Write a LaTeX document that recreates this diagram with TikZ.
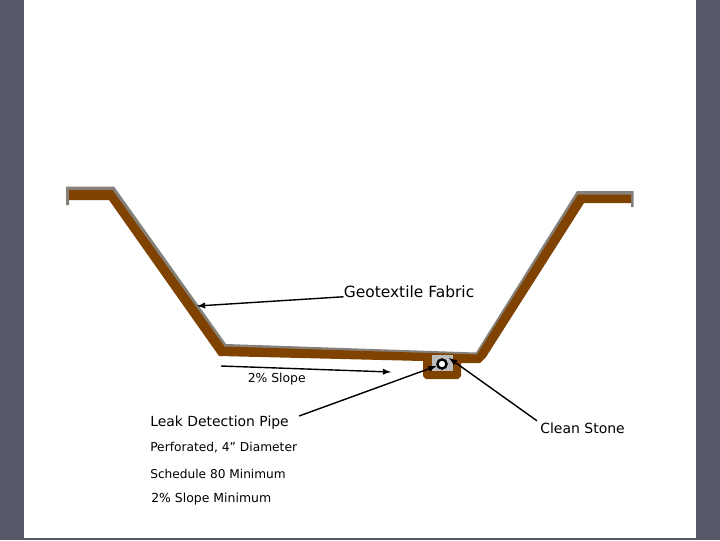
\documentclass[tikz,border=0pt]{standalone}
\usepackage{fontspec}
\setmainfont{DejaVu Sans}
\usetikzlibrary{calc}
\definecolor{slidegray}{HTML}{565868}
\definecolor{soilbrown}{HTML}{7F4200}
\definecolor{linergray}{HTML}{85807A}
\definecolor{stonegray}{HTML}{BDBDBD}
\tikzset{
    lbl/.style={right, inner sep=0pt, font=\fontsize{#1}{#1}\selectfont},
    leader/.style={draw=black, line width=1pt},
    leaderarrow/.style={leader, -latex}
}

\begin{document}
\begin{tikzpicture}[x=0.025cm, y=-0.025cm]
        \fill[slidegray] (0,0) rectangle (720,540); % Slide
        \fill[white] (24,0) rectangle (696,537.5); % Page
        \useasboundingbox (0,0) rectangle (720,540);
        % Liner under the soil
        \fill[linergray] (66,205) -- (66,186.5) -- (114,186.5) -- (226,344) -- (476,352.5) -- (577,191) -- (633.5,191) -- (633.5,207) -- (631,207) -- (631,196) -- (583,196) -- (480,358) -- (222,350) -- (110,192) -- (69,192) -- (69,205) -- cycle;
        % Soil
        \fill[soilbrown] (69,190) -- (112.5,190) -- (224.5,346.5) -- (477,354.5) -- (578,194.5) -- (631,194.5) -- (631,203) -- (584,203) -- (486,357) -- (480,363) -- (461,363) -- (461,376) -- (458,379) -- (426,379) -- (423,376) -- (423,361) -- (219,356) -- (109,200) -- (69,200) -- cycle;
        \fill[stonegray] (432,355) rectangle (453,371); % Stone
        \node[draw=black, line width=1.7pt, fill=white, circle, minimum size=6.5pt, inner sep=0pt] (pipe) at (442,364) {};
        % Labels
        \node[lbl=11] (geotextile) at (343.5,291.5) {Geotextile Fabric};
        \node[lbl=8.8] (slope) at (247.5,379.5) {2\% Slope};
        \node[lbl=9.9] (leak) at (150,423) {Leak Detection Pipe};
        \node[lbl=8.7] (perforated) at (150,448) {Perforated, 4” Diameter};
        \node[lbl=8.65] (schedule) at (150,473.5) {Schedule 80 Minimum};
        \node[lbl=8.85] (minimum) at (151,499.5) {2\% Slope Minimum};
        \node[lbl=9.95] (stone) at (540,428.5) {Clean Stone};
        % Leaders
        \coordinate (linerpt) at (197,306);
        \coordinate (slopestart) at (221,366);
        \coordinate (slopeend) at (391,372);
        \coordinate (stonept) at (449,358);
        \draw[leaderarrow] (geotextile.south west) ++(0,-1) -- (linerpt);
        \draw[leaderarrow] (slopestart) -- (slopeend);
        \draw[leaderarrow] (leak.east) ++(10,-7) -- (pipe);
        \draw[leaderarrow] (stone.north west) ++(-3,-2) -- (stonept);
    \end{tikzpicture}
\end{document}
